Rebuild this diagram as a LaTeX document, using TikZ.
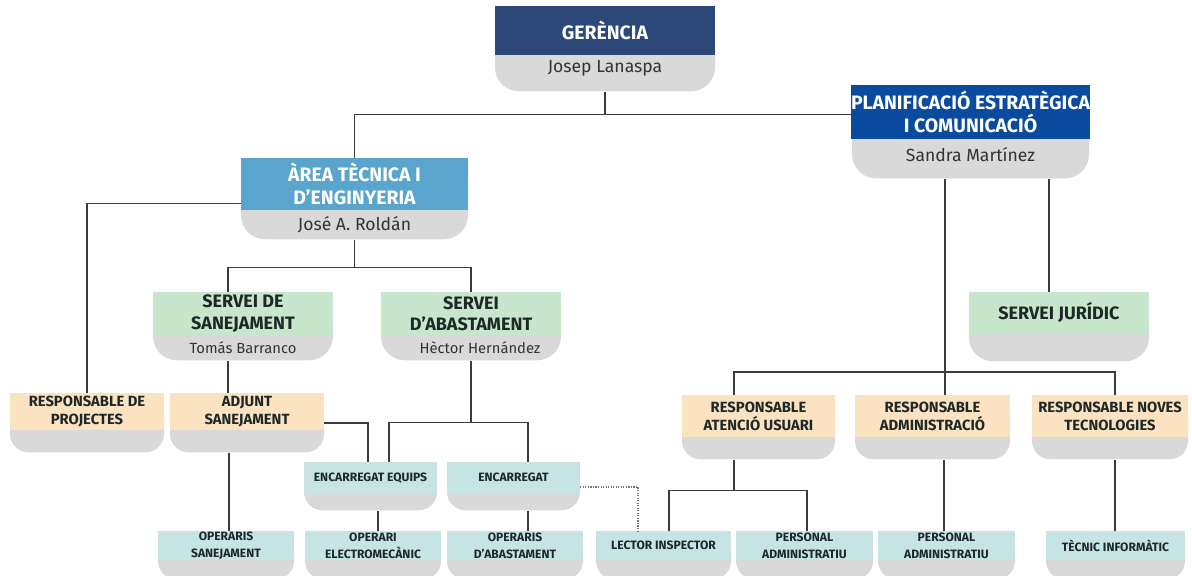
\documentclass[tikz,border=0pt]{standalone}
\usepackage{fontspec}
\setmainfont{Fira Sans}
\usepackage{tikz}

\definecolor{gerblue}{HTML}{2C4878}
\definecolor{planblue}{HTML}{0A4BA0}
\definecolor{areablue}{HTML}{5AA5CD}
\definecolor{servgreen}{HTML}{C8E6CC}
\definecolor{respor}{HTML}{FBE3C2}
\definecolor{opteal}{HTML}{C5E4E3}
\definecolor{boxgrey}{HTML}{D9D9D9}
\definecolor{linegrey}{HTML}{3C3C3C}
\definecolor{darktext}{HTML}{1E2828}

\begin{document}
\begin{tikzpicture}[x=0.025cm, y=-0.025cm,
	base/.style = {fill=boxgrey, anchor=north, inner sep=0pt, rounded corners=17pt},
	small/.style = {rounded corners=13pt},
	sz/.style 2 args = {minimum width=#1*0.025cm, minimum height=#2*0.025cm},
	head/.style = {fill=#1, anchor=north, inner sep=0pt, align=center},
	bigtext/.style = {text=white, font=\bfseries\fontsize{13.8}{16.5}\selectfont},
	midtext/.style = {text=darktext, font=\bfseries\fontsize{12.8}{15.5}\selectfont},
	lowtext/.style = {text=darktext, font=\bfseries\fontsize{10.5}{12.5}\selectfont},
	minitext/.style = {text=darktext, font=\bfseries\fontsize{8.6}{11.5}\selectfont},
	person/.style = {text=black!80, font=\fontsize{12.5}{14}\selectfont},
	link/.style = {draw=linegrey, line width=0.9pt},
	dotlink/.style = {draw=linegrey!70, densely dotted, line width=0.8pt}]

	\useasboundingbox (0,0) rectangle (1192,576);

	% Direction
	\node (ger)    [base, sz={220}{85}]  at (605, 6) {};
	\node (ger-h)  [head=gerblue, bigtext, sz={220}{49}] at (605, 6) {GERÈNCIA};
	\node (ger-p)  [person] at (605, 68) {Josep Lanaspa};

	\node (plan)   [base, sz={237}{93}]  at (970.5, 85) {};
	\node (plan-h) [head=planblue, bigtext, sz={237}{54}] at (970.5, 85)
		{PLANIFICACIÓ ESTRATÈGICA\\I COMUNICACIÓ};
	\node (plan-p) [person] at (970.5, 155) {Sandra Martínez};

	\node (area)   [base, sz={227}{81}]  at (354.5, 158) {};
	\node (area-h) [head=areablue, bigtext, sz={227}{52}] at (354.5, 158)
		{ÀREA TÈCNICA I\\D’ENGINYERIA};
	\node (area-p) [person] at (354.5, 225) {José A. Roldán};

	% Serveis
	\node (san)    [base, sz={180}{68}]  at (243, 292) {};
	\node (san-h)  [head=servgreen, midtext, sz={180}{43}] at (243, 292) {SERVEI DE\\SANEJAMENT};
	\node (san-p)  [person, font=\fontsize{10.5}{12}\selectfont] at (243, 348) {Tomás Barranco};

	\node (aba)    [base, sz={180}{68}]  at (471, 292) {};
	\node (aba-h)  [head=servgreen, midtext, sz={180}{43}] at (471, 292) {SERVEI\\D’ABASTAMENT};
	\node (aba-p)  [person, font=\fontsize{10.5}{12}\selectfont] at (480, 348) {Hèctor Hernández};

	\node (jur)    [base, sz={180}{69}]  at (1059, 292) {};
	\node (jur-h)  [head=servgreen, midtext, sz={180}{41}] at (1059, 292) {SERVEI JURÍDIC};

	% Responsables
	\node (proj)   [base, small, sz={154}{59}] at (87, 393) {};
	\node (proj-h) [head=respor, lowtext, sz={154}{37}] at (87, 393) {RESPONSABLE DE\\PROJECTES};

	\node (adj)    [base, small, sz={154}{59}] at (247, 393) {};
	\node (adj-h)  [head=respor, lowtext, sz={154}{37}] at (247, 393) {ADJUNT\\SANEJAMENT};

	\node (ate)    [base, small, sz={153}{64}] at (758.5, 395) {};
	\node (ate-h)  [head=respor, lowtext, sz={153}{42}] at (758.5, 395) {RESPONSABLE\\ATENCIÓ USUARI};

	\node (adm)    [base, small, sz={155}{64}] at (932.5, 395) {};
	\node (adm-h)  [head=respor, lowtext, sz={155}{42}] at (932.5, 395) {RESPONSABLE\\ADMINISTRACIÓ};

	\node (nov)    [base, small, sz={156}{64}] at (1110, 395) {};
	\node (nov-h)  [head=respor, lowtext, sz={156}{42}] at (1110, 395) {RESPONSABLE NOVES\\TECNOLOGIES};

	% Encarregats
	\node (equ)    [base, small, sz={133}{48}] at (370.5, 462) {};
	\node (equ-h)  [head=opteal, minitext, sz={133}{31}] at (370.5, 462) {ENCARREGAT EQUIPS};

	\node (enc)    [base, small, sz={133}{48}] at (513.5, 462) {};
	\node (enc-h)  [head=opteal, minitext, sz={133}{31}] at (513.5, 462) {ENCARREGAT};

	% Operaris
	\node (opsan)   [base, small, sz={136}{48}] at (226, 531) {};
	\node (opsan-h) [head=opteal, minitext, sz={136}{29}] at (226, 531) {OPERARIS\\SANEJAMENT};

	\node (opel)    [base, small, sz={136}{48}] at (373, 531) {};
	\node (opel-h)  [head=opteal, minitext, sz={136}{29}] at (373, 531) {OPERARI\\ELECTROMECÀNIC};

	\node (opab)    [base, small, sz={136}{48}] at (515, 531) {};
	\node (opab-h)  [head=opteal, minitext, sz={136}{29}] at (515, 531) {OPERARIS\\D’ABASTAMENT};

	\node (lect)    [base, small, sz={135}{48}] at (663.5, 531) {};
	\node (lect-h)  [head=opteal, minitext, sz={135}{29}] at (663.5, 531) {LECTOR INSPECTOR};

	\node (pers1)   [base, small, sz={137}{48}] at (804.5, 531) {};
	\node (pers1-h) [head=opteal, minitext, sz={137}{29}] at (804.5, 531) {PERSONAL\\ADMINISTRATIU};

	\node (pers2)   [base, small, sz={137}{48}] at (946.5, 531) {};
	\node (pers2-h) [head=opteal, minitext, sz={137}{29}] at (946.5, 531) {PERSONAL\\ADMINISTRATIU};

	\node (tec)     [base, small, sz={139}{48}] at (1115.5, 531) {};
	\node (tec-h)   [head=opteal, minitext, sz={139}{29}] at (1115.5, 531) {TÈCNIC INFORMÀTIC};

	% Connectors
	\draw[link] (ger.south) -- ++(0,23) coordinate (gj) -| (area.north);
	\draw[link] (gj) -- (gj -| plan.west);
	\draw[link] (area-h.south west) ++(0,-7) -| (proj.north);
	\draw[link] (area.south) -- ++(0,28) coordinate (aj) -| (san.north -| 228,0);
	\draw[link] (aj) -| (aba.north);
	\draw[link] (san.south -| 228,0) -- (adj.north -| 228,0);
	\draw[link] (adj.south -| 229,0) -- (opsan.north -| 229,0);
	\draw[link] (adj.east |- 0,423) -| (equ.north -| 368,0);
	\draw[link] (aba.south) -- ++(0,62) coordinate (bj) -| (equ.north -| 389,0);
	\draw[link] (bj) -| (enc.north -| 528,0);
	\draw[link] (equ.south -| 378,0) -- (opel.north -| 378,0);
	\draw[link] (enc.south -| 528,0) -- (opab.north -| 528,0);
	\draw[dotlink] (enc.east |- 0,487) -| (lect.north -| 638,0);

	\draw[link] (plan.south -| 945,0) -- (adm.north -| 945,0);
	\draw[link] (plan.south -| 1049,0) -- (jur.north -| 1049,0);
	\draw[link] (ate.north -| 734,0) -- ++(0,-23) -| (nov.north -| 1115,0);
	\draw[link] (ate.south -| 734,0) -- ++(0,31) coordinate (uj) -| (lect.north -| 669,0);
	\draw[link] (uj) -| (pers1.north -| 807,0);
	\draw[link] (adm.south -| 944,0) -- (pers2.north -| 944,0);
	\draw[link] (nov.south -| 1115,0) -- (tec.north -| 1115,0);
\end{tikzpicture}
\end{document}
